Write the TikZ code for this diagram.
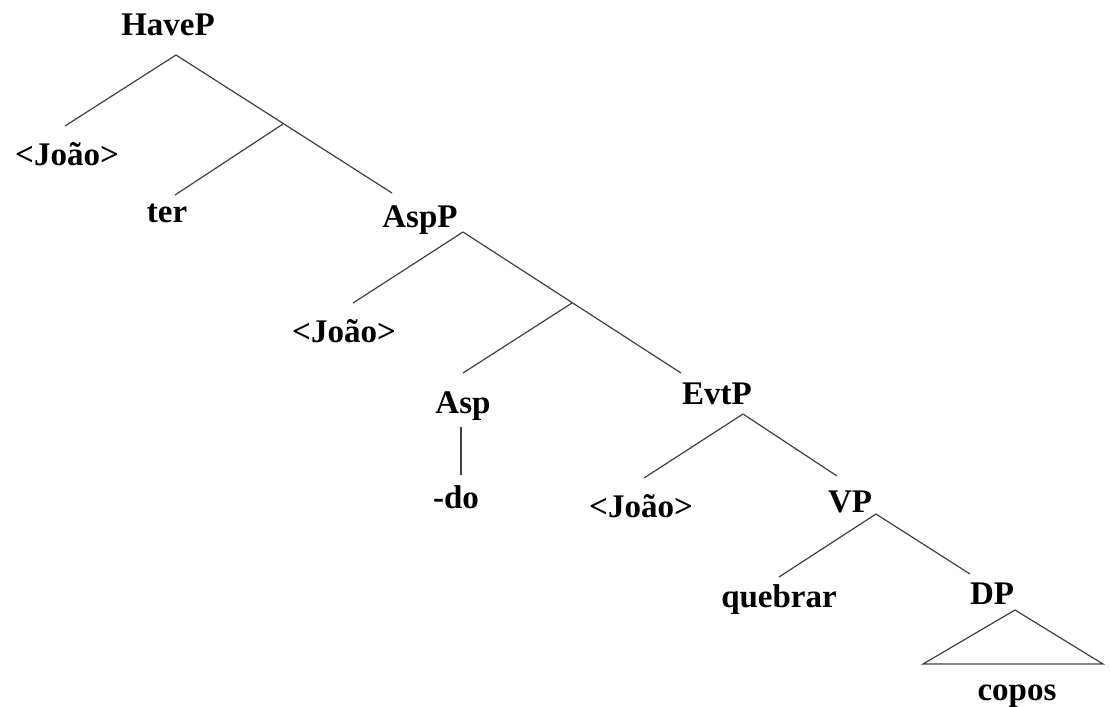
\documentclass[tikz,border=0pt]{standalone}
\usepackage{fontspec}
\setmainfont{Liberation Serif}
\tikzset{
	lbl/.style={anchor=base, inner sep=0pt, font=\bfseries\fontsize{16.5}{20}\selectfont},
	br/.style={line width=0.6pt, draw=black!75},
}
\begin{document}
\begin{tikzpicture}[x=0.5pt,y=-0.5pt]
	\useasboundingbox (0,0) rectangle (1110,707);

	% labels
	\node[lbl] (haveP) at (168,35) {HaveP};
	\node[lbl] (joaoA) at (67,165) {<João>};
	\node[lbl] (ter) at (167,222) {ter};
	\node[lbl] (aspP) at (420,227) {AspP};
	\node[lbl] (joaoB) at (344,342) {<João>};
	\node[lbl] (asp) at (463,413) {Asp};
	\node[lbl] (do) at (456,508) {-do};
	\node[lbl] (evtP) at (717,404) {EvtP};
	\node[lbl] (joaoC) at (641,517) {<João>};
	\node[lbl] (vP) at (850,512) {VP};
	\node[lbl] (quebrar) at (779,607) {quebrar};
	\node[lbl] (dP) at (992,604) {DP};
	\node[lbl] (copos) at (1017,700) {copos};

	% branch ends
	\coordinate (haveP-b) at (176,55);
	\coordinate (haveP-bar) at (283,124);
	\coordinate (joaoA-t) at (65,126);
	\coordinate (ter-t) at (175,195);
	\coordinate (aspP-t) at (392,193);
	\coordinate (aspP-b) at (463,232);
	\coordinate (aspP-bar) at (572,303);
	\coordinate (joaoB-t) at (353,303);
	\coordinate (asp-t) at (463,373);
	\coordinate (asp-b) at (461,427);
	\coordinate (do-t) at (461,475);
	\coordinate (evtP-t) at (681,373);
	\coordinate (evtP-b) at (743,414);
	\coordinate (joaoC-t) at (644,478);
	\coordinate (vP-t) at (837,476);
	\coordinate (vP-b) at (876,514);
	\coordinate (quebrar-t) at (779,577);
	\coordinate (dP-t) at (970,574);
	\coordinate (dP-b) at (1015,610);

	% HaveP
	\draw[br] (haveP-b) -- (joaoA-t);
	\draw[br] (haveP-b) -- (aspP-t);
	\draw[br] (haveP-bar) -- (ter-t);

	% AspP
	\draw[br] (aspP-b) -- (joaoB-t);
	\draw[br] (aspP-b) -- (evtP-t);
	\draw[br] (aspP-bar) -- (asp-t);
	\draw[br] (asp-b) -- (do-t);

	% EvtP
	\draw[br] (evtP-b) -- (joaoC-t);
	\draw[br] (evtP-b) -- (vP-t);
	\draw[br] (vP-b) -- (quebrar-t);
	\draw[br] (vP-b) -- (dP-t);

	% DP triangle
	\draw[br] (dP-b) -- (923,664) -- (1103,664) -- cycle;
\end{tikzpicture}
\end{document}
